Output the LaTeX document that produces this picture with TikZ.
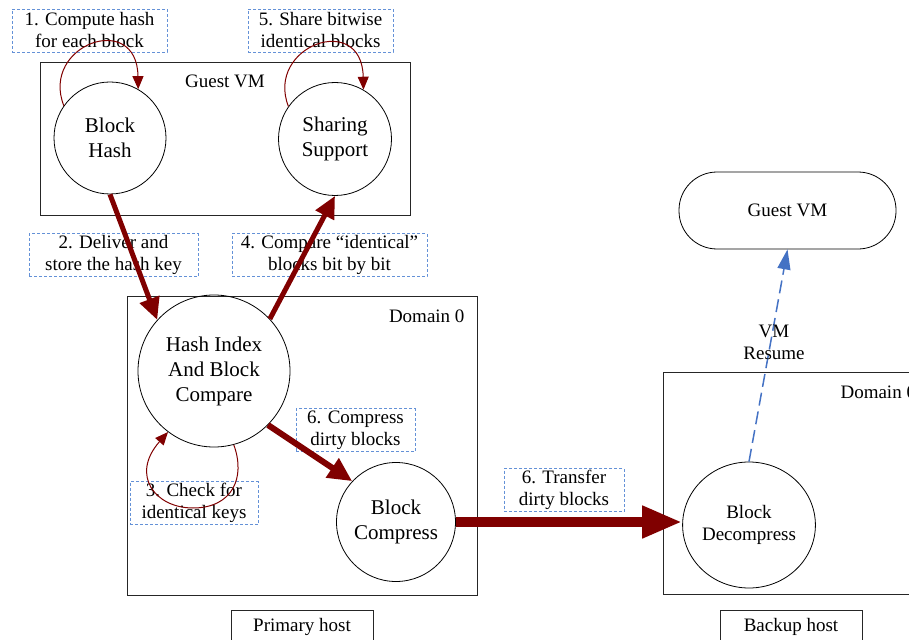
\documentclass[tikz,border=0pt]{standalone}
\usepackage{fontspec}
\setmainfont{Liberation Serif}
\usetikzlibrary{arrows.meta,shapes.geometric}
\definecolor{flowred}{RGB}{128,0,0}
\definecolor{notecol}{RGB}{100,145,215}
\definecolor{resumeblue}{RGB}{68,114,196}

\begin{document}
\begin{tikzpicture}[x=1pt,y=-1pt,
  small/.style={font=\fontsize{19}{22}\selectfont, align=center},
  proc/.style={circle, draw, line width=0.8pt, inner sep=0pt, align=center,
               font=\fontsize{21}{25}\selectfont},
  note/.style={draw=notecol, dash pattern=on 3pt off 2pt, line width=0.8pt,
               minimum height=43pt, inner sep=0pt, small},
  frame/.style={draw=black!85, line width=0.8pt, inner sep=0pt},
  bigflow/.style={draw=flowred, line width=5pt, -{Triangle[length=22pt,width=20pt]}},
  loopflow/.style={draw=flowred, line width=1pt, -{Triangle[length=13pt,width=11pt]}},
  resume/.style={draw=resumeblue, line width=1.5pt, dash pattern=on 13pt off 6pt,
                 -{Triangle[length=20pt,width=13pt]}}
]
\useasboundingbox (0,0) rectangle (909,639);
\clip (0,0) rectangle (909,639);

% ---- containers ----
\node[frame, minimum width=370pt, minimum height=153pt] (guestbox) at (225,138.5) {};
\node[small] (guestlbl) at (225,81) {Guest VM};
\node[frame, minimum width=350pt, minimum height=299pt] (dom0a) at (302,445.5) {};
\node[small, anchor=east] (dom0albl) at (468,316) {Domain 0};
\node[frame, minimum width=262pt, minimum height=222pt] (dom0b) at (794,483) {};
\node[small, anchor=west] (dom0blbl) at (837,392) {Domain 0};
\node[frame, minimum width=142pt, minimum height=45pt] (primary) at (302,632.5) {};
\node[small] (primarylbl) at (302,627) {Primary host};
\node[frame, minimum width=142pt, minimum height=45pt] (backup) at (791,632.5) {};
\node[small] (backuplbl) at (791,627) {Backup host};

% ---- processes ----
\node[proc, minimum size=112pt] (bh) at (110,138) {Block\\Hash};
\node[proc, minimum size=113pt] (ss) at (335,139) {Sharing\\Support};
\node[proc, minimum size=152pt] (hi) at (214,371) {Hash Index\\And Block\\Compare};
\node[proc, minimum size=119pt] (bc) at (396,522) {Block\\Compress};
\node[ellipse, draw, line width=0.8pt, inner sep=0pt, minimum width=131pt,
      minimum height=126pt, small] (bd) at (749,525) {Block\\Decompress};
\node[draw, line width=0.8pt, rounded corners=38pt, minimum width=217pt,
      minimum height=77pt, small] (gvm) at (787.5,210.5) {Guest VM};

% ---- step notes ----
\node[note, minimum width=155pt] (n1) at (89.5,30.5) {1. Compute hash\\for each block};
\node[note, minimum width=145pt] (n5) at (320.5,30.5) {5. Share bitwise\\identical blocks};
\node[note, minimum width=169pt] (n2) at (113.5,255) {2. Deliver and\\store the hash key};
\node[note, minimum width=195pt] (n4) at (329.5,255) {4. Compare “identical”\\blocks bit by bit};
\node[note, minimum width=119pt] (n6a) at (355.5,430) {6. Compress\\dirty blocks};
\node[note, minimum width=128pt] (n3) at (194,503) {3. Check for\\identical keys};
\node[note, minimum width=120pt] (n6b) at (564,490) {6. Transfer\\dirty blocks};

% ---- self loops ----
\draw[loopflow] (bh.145) .. controls (40,45) and (137,10) .. (bh.60);
\draw[loopflow] (ss.145) .. controls (265,46) and (362,11) .. (ss.60);
\draw[loopflow] (hi.-75) .. controls (246,478) and (232,508) .. (193,508)
                         .. controls (155,508) and (130,475) .. (hi.233);

% ---- data flow ----
\draw[bigflow] (bh.south) -- (hi.138);
\draw[bigflow] (hi.43) -- (ss.south);
\draw[bigflow, line width=6pt, -{Triangle[length=24pt,width=22pt]}] (hi.-45) -- (bc.137);
\draw[bigflow, line width=10pt, -{Triangle[length=40pt,width=30pt]}]
     (bc.east) -- (bc.east -| bd.west);

% ---- resume ----
\draw[resume] (bd.north) -- (gvm.south);
\node[small] (resumelbl) at (774,342) {VM\\Resume};
\end{tikzpicture}
\end{document}
